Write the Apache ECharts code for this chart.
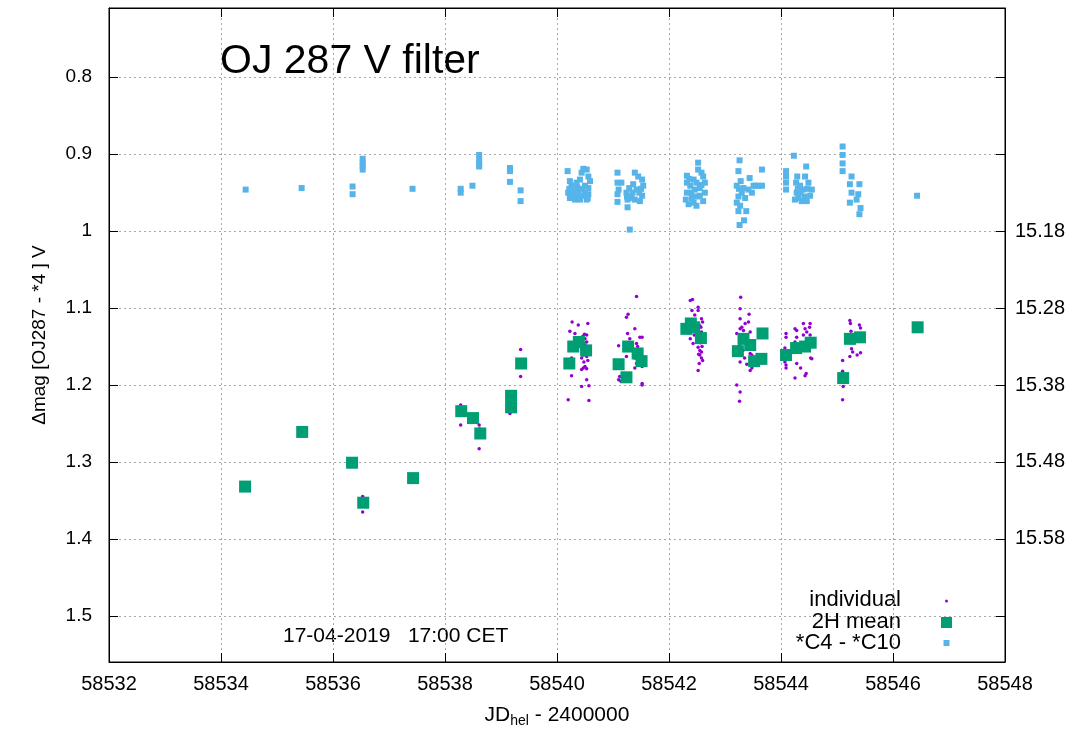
<!DOCTYPE html>
<html>
<head>
<meta charset="utf-8">
<script src="https://cdn.jsdelivr.net/npm/echarts@6/dist/echarts.min.js"></script>
<style>
  html, body { margin: 0; padding: 0; background: #fff; }
  #chart { width: 1078px; height: 733px; }
</style>
</head>
<body>
<div id="chart"></div>
<script>
  // x ticks and y ticks
  const xMin = 58532, xMax = 58548, xStep = 2;
  const yMin = 0.71, yMax = 1.56;
  const yTicks = [0.8, 0.9, 1.0, 1.1, 1.2, 1.3, 1.4, 1.5];
  const rightTicks = [1.0, 1.1, 1.2, 1.3, 1.4];
  const rightOffset = 14.18; // 1.0 -> 15.18

  // individual measurements
  const individual = [
    [58536.33,1.302],[58536.53,1.345],[58536.53,1.365],
    [58538.28,1.226],[58538.29,1.230],[58538.28,1.252],[58538.61,1.252],[58538.62,1.257],[58538.61,1.283],
    [58539.16,1.221],[58539.16,1.237],[58539.35,1.154],[58539.35,1.189],
    [58540.27,1.118],[58540.38,1.122],[58540.55,1.120],[58540.23,1.130],[58540.32,1.133],[58540.49,1.134],
    [58540.53,1.135],[58540.50,1.140],[58540.53,1.144],[58540.47,1.146],[58540.56,1.150],[58540.44,1.153],
    [58540.47,1.161],[58540.53,1.163],[58540.44,1.165],[58540.26,1.165],[58540.23,1.170],[58540.47,1.178],
    [58540.53,1.179],[58540.44,1.180],[58540.26,1.188],[58540.53,1.193],[58540.44,1.202],[58540.57,1.201],
    [58540.20,1.219],[58540.57,1.220],[58540.50,1.148],[58540.52,1.156],[58540.48,1.170],[58540.50,1.176],
    [58540.55,1.168],[58540.46,1.137],
    [58541.42,1.085],[58541.27,1.108],[58541.24,1.112],[58541.26,1.133],[58541.39,1.127],[58541.48,1.138],
    [58541.52,1.138],[58541.42,1.146],[58541.10,1.149],[58541.24,1.163],[58541.44,1.150],[58541.39,1.165],
    [58541.42,1.172],[58541.39,1.178],[58541.52,1.176],[58541.12,1.189],[58541.10,1.193],[58541.52,1.198],
    [58541.52,1.200],[58541.14,1.195],[58541.46,1.156],[58541.48,1.160],[58541.30,1.140],[58541.45,1.168],
    [58542.38,1.090],[58542.42,1.089],[58542.41,1.103],[58542.52,1.099],[58542.52,1.103],[58542.46,1.109],
    [58542.58,1.114],[58542.60,1.118],[58542.55,1.123],[58542.38,1.120],[58542.58,1.131],[58542.38,1.140],
    [58542.43,1.146],[58542.52,1.151],[58542.55,1.155],[58542.58,1.157],[58542.55,1.161],[58542.58,1.165],
    [58542.54,1.172],[58542.52,1.181],[58542.57,1.125],[58542.60,1.135],[58542.56,1.145],[58542.59,1.150],
    [58542.53,1.160],[58542.60,1.168],[58542.50,1.128],[58542.45,1.135],[58542.35,1.132],
    [58543.28,1.086],[58543.27,1.101],[58543.43,1.108],[58543.27,1.114],[58543.42,1.118],[58543.36,1.120],
    [58543.27,1.127],[58543.33,1.129],[58543.45,1.131],[58543.21,1.133],[58543.39,1.135],[58543.30,1.140],
    [58543.36,1.142],[58543.27,1.146],[58543.45,1.159],[58543.48,1.161],[58543.27,1.170],[58543.39,1.173],
    [58543.48,1.178],[58543.45,1.181],[58543.21,1.200],[58543.27,1.209],[58543.26,1.221],[58543.30,1.125],
    [58543.25,1.150],[58543.32,1.155],[58543.40,1.150],[58543.35,1.165],
    [58544.09,1.133],[58544.09,1.138],[58544.07,1.152],[58544.07,1.170],[58544.09,1.174],[58544.09,1.178],
    [58544.25,1.127],[58544.28,1.129],[58544.28,1.138],[58544.25,1.144],[58544.40,1.120],[58544.43,1.127],
    [58544.46,1.131],[58544.52,1.120],[58544.51,1.125],[58544.52,1.135],[58544.40,1.135],[58544.37,1.153],
    [58544.28,1.172],[58544.35,1.178],[58544.25,1.191],[58544.43,1.188],[58544.45,1.185],[58544.53,1.165],
    [58544.55,1.166],[58544.55,1.144],[58544.58,1.140],
    [58545.23,1.116],[58545.24,1.120],[58545.40,1.122],[58545.42,1.126],[58545.26,1.153],[58545.28,1.157],
    [58545.23,1.163],[58545.36,1.161],[58545.42,1.158],[58545.10,1.168],[58545.10,1.182],[58545.11,1.202],
    [58545.10,1.219],[58545.25,1.130],[58545.38,1.135],[58545.28,1.145]
  ];

  // 2 hour means
  const mean2h = [
    [58534.43,1.332],[58535.45,1.261],[58536.34,1.301],[58536.54,1.353],[58537.43,1.321],
    [58538.29,1.234],[58538.50,1.243],[58538.63,1.263],[58539.18,1.214],[58539.18,1.229],[58539.36,1.172],
    [58540.22,1.172],[58540.29,1.150],[58540.39,1.144],[58540.52,1.155],
    [58541.10,1.173],[58541.24,1.190],[58541.27,1.150],[58541.44,1.159],[58541.51,1.169],
    [58542.31,1.127],[58542.39,1.120],[58542.45,1.125],[58542.57,1.139],
    [58543.23,1.156],[58543.33,1.140],[58543.45,1.148],[58543.52,1.169],[58543.65,1.166],[58543.67,1.133],
    [58544.09,1.161],[58544.27,1.152],[58544.43,1.150],[58544.53,1.145],
    [58545.11,1.191],[58545.23,1.140],[58545.41,1.138],[58546.44,1.125]
  ];

  // comparison stars *C4 - *C10
  const compStars = [
    [58534.44,0.946],[58535.44,0.944],[58536.35,0.942],[58536.35,0.952],[58536.53,0.906],[58536.53,0.911],
    [58536.53,0.915],[58536.53,0.920],[58537.42,0.945],[58538.28,0.945],[58538.28,0.950],[58538.49,0.941],
    [58538.61,0.901],[58538.61,0.908],[58538.61,0.912],[58538.61,0.916],[58539.16,0.918],[58539.16,0.922],
    [58539.16,0.936],[58539.35,0.947],[58539.35,0.961],
    [58540.19,0.922],[58540.47,0.919],[58540.53,0.920],[58540.23,0.935],[58540.26,0.941],[58540.20,0.950],
    [58540.23,0.957],[58540.32,0.959],[58540.41,0.959],[58540.53,0.959],[58540.56,0.952],[58540.59,0.935],
    [58540.56,0.929],[58540.44,0.924],[58540.50,0.941],[58540.38,0.948],[58540.29,0.950],[58540.47,0.954],
    [58540.35,0.937],[58540.56,0.944],[58540.26,0.946],[58540.41,0.933],[58540.22,0.945],[58540.30,0.955],
    [58540.38,0.953],[58540.45,0.945],[58540.50,0.950],[58540.55,0.957],[58540.36,0.943],[58540.27,0.953],
    [58541.08,0.924],[58541.08,0.937],[58541.10,0.946],[58541.08,0.952],[58541.08,0.962],[58541.24,0.950],
    [58541.26,0.959],[58541.26,0.969],[58541.30,0.998],[58541.39,0.924],[58541.45,0.929],[58541.52,0.933],
    [58541.54,0.941],[58541.52,0.954],[58541.48,0.961],[58541.39,0.959],[58541.33,0.957],[58541.42,0.946],
    [58541.36,0.939],[58541.15,0.937],[58541.29,0.944],[58541.47,0.950],[58541.50,0.945],[58541.35,0.950],
    [58541.25,0.955],
    [58542.52,0.911],[58542.52,0.920],[58542.58,0.924],[58542.32,0.928],[58542.32,0.937],[58542.32,0.950],
    [58542.30,0.959],[58542.35,0.965],[58542.49,0.967],[58542.61,0.961],[58542.64,0.950],[58542.64,0.937],
    [58542.61,0.929],[58542.44,0.933],[58542.46,0.946],[58542.55,0.954],[58542.41,0.957],[58542.38,0.941],
    [58542.49,0.937],[58542.55,0.944],[58542.44,0.963],[58542.40,0.950],[58542.50,0.955],[58542.58,0.940],
    [58542.36,0.932],
    [58543.26,0.908],[58543.24,0.922],[58543.44,0.931],[58543.66,0.920],[58543.28,0.935],[58543.21,0.941],
    [58543.33,0.944],[58543.42,0.946],[58543.51,0.941],[58543.66,0.941],[58543.48,0.950],[58543.24,0.955],
    [58543.36,0.957],[58543.21,0.963],[58543.27,0.967],[58543.24,0.974],[58543.38,0.974],[58543.34,0.986],
    [58543.26,0.992],[58543.55,0.941],[58543.60,0.941],[58543.30,0.950],[58543.25,0.945],
    [58544.09,0.922],[58544.09,0.929],[58544.09,0.937],[58544.09,0.946],[58544.23,0.902],[58544.29,0.929],
    [58544.45,0.916],[58544.43,0.929],[58544.27,0.937],[58544.28,0.950],[58544.25,0.959],[58544.34,0.941],
    [58544.40,0.946],[58544.46,0.961],[58544.55,0.946],[58544.52,0.954],[58544.37,0.961],[58544.49,0.937],
    [58544.31,0.957],[58544.35,0.950],[58544.42,0.955],[58544.30,0.945],[58544.47,0.945],
    [58545.10,0.890],[58545.10,0.901],[58545.10,0.912],[58545.10,0.922],[58545.26,0.929],[58545.23,0.939],
    [58545.40,0.939],[58545.26,0.950],[58545.38,0.952],[58545.35,0.959],[58545.23,0.963],[58545.42,0.970],
    [58545.40,0.978],[58546.43,0.954]
  ];

  const FONT = '"Liberation Sans", Arial, sans-serif';
  const gridLine = { show: true, lineStyle: { color: '#a8a8a8', type: [2, 3], width: 1 } };
  const tickIn = { show: true, inside: true, length: 9, lineStyle: { color: '#000' } };

  const option = {
    animation: false,
    backgroundColor: '#fff',
    grid: { left: 109, right: 73, top: 8, bottom: 68, show: true, borderColor: '#000', borderWidth: 1 },
    xAxis: [
      {
        type: 'value', min: xMin, max: xMax, interval: xStep, position: 'bottom',
        axisLine: { show: true, lineStyle: { color: '#000' } },
        axisTick: tickIn,
        axisLabel: { color: '#000', fontSize: 20, fontFamily: FONT, margin: 12, formatter: v => String(v) },
        splitLine: gridLine,
        name: '{a|JD}{s|hel}{a| - 2400000}',
        nameLocation: 'middle', nameGap: 41,
        nameTextStyle: {
          rich: {
            a: { fontSize: 21, fontFamily: FONT, color: '#000' },
            s: { fontSize: 14, fontFamily: FONT, color: '#000', verticalAlign: 'bottom', padding: [11, 0, 0, 0] }
          }
        }
      },
      {
        type: 'value', min: xMin, max: xMax, interval: xStep, position: 'top',
        axisLine: { show: true, lineStyle: { color: '#000' } },
        axisTick: tickIn, axisLabel: { show: false }, splitLine: { show: false }
      }
    ],
    yAxis: [
      {
        type: 'value', min: yMin, max: yMax, inverse: true, position: 'left',
        axisLine: { show: true, lineStyle: { color: '#000' } },
        axisTick: Object.assign({ customValues: yTicks }, tickIn),
        axisLabel: { customValues: yTicks, color: '#000', fontSize: 19, fontFamily: FONT, margin: 17 },
        splitLine: gridLine,
        name: 'Δmag [OJ287 - *4 ] V',
        nameLocation: 'middle', nameGap: 60,
        nameTextStyle: { fontSize: 19, fontFamily: FONT, color: '#000' }
      },
      {
        type: 'value', min: yMin, max: yMax, inverse: true, position: 'right',
        axisLine: { show: true, lineStyle: { color: '#000' } },
        axisTick: Object.assign({ customValues: yTicks }, tickIn),
        axisLabel: {
          customValues: rightTicks, color: '#000', fontSize: 20, fontFamily: FONT, margin: 10,
          formatter: v => (v + rightOffset).toFixed(2)
        },
        splitLine: { show: false }
      }
    ],
    graphic: [
      { type: 'text', left: 220, top: 41, style: { text: 'OJ 287 V filter', font: '41px ' + FONT, fill: '#000' } },
      { type: 'text', left: 283, top: 626, style: { text: '17-04-2019   17:00 CET', font: '21px ' + FONT, fill: '#000' } },
      { type: 'text', right: 177, top: 589, style: { text: 'individual', font: '22px ' + FONT, fill: '#000', textAlign: 'right' } },
      { type: 'text', right: 177, top: 611, style: { text: '2H mean', font: '22px ' + FONT, fill: '#000', textAlign: 'right' } },
      { type: 'text', right: 177, top: 632, style: { text: '*C4 - *C10', font: '22px ' + FONT, fill: '#000', textAlign: 'right' } },
      { type: 'circle', shape: { cx: 946.5, cy: 601, r: 1.5 }, style: { fill: '#9400d3' } },
      { type: 'rect', shape: { x: 941, y: 617, width: 11, height: 11 }, style: { fill: '#009e73' } },
      { type: 'rect', shape: { x: 943.5, y: 640, width: 6, height: 6 }, style: { fill: '#56b4e9' } }
    ],
    series: [
      {
        name: 'individual', type: 'scatter', data: individual,
        symbol: 'circle', symbolSize: 3.5, itemStyle: { color: '#9400d3', opacity: 1 }
      },
      {
        name: '2H mean', type: 'scatter', data: mean2h,
        symbol: 'rect', symbolSize: 12, itemStyle: { color: '#009e73', opacity: 1 }
      },
      {
        name: '*C4 - *C10', type: 'scatter', data: compStars,
        symbol: 'rect', symbolSize: 6, itemStyle: { color: '#56b4e9', opacity: 1 }
      }
    ]
  };

  const myChart = echarts.init(document.getElementById('chart'));
  myChart.setOption(option);
  window.addEventListener('resize', function () {
    myChart && myChart.resize();
  });
</script>
</body>
</html>
